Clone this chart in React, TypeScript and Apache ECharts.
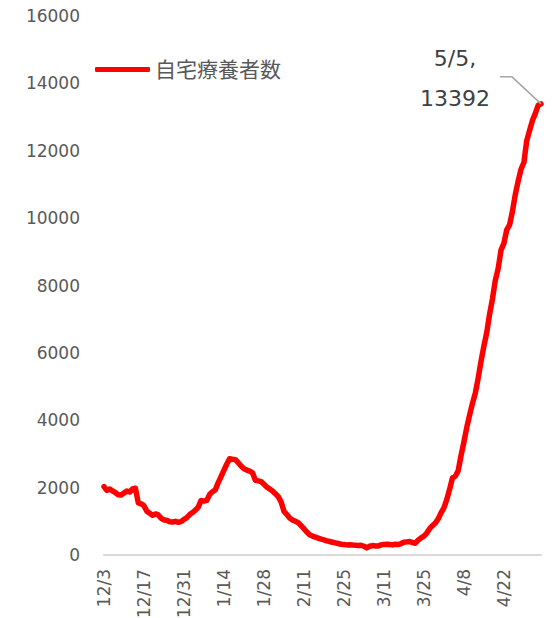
import React, { useEffect, useRef } from "react";
import * as echarts from "echarts";

const seriesName = "自宅療養者数";
const startDate = { year: 2020, month: 12, day: 3 };
const dayCount = 154;
const yTicks = { min: 0, max: 16000, interval: 2000 };
const values = [
  2030, 1920, 1960, 1900, 1850, 1790, 1780, 1840, 1900, 1870,
  1960, 1980, 1550, 1520, 1460, 1300, 1240, 1180, 1220, 1190,
  1090, 1040, 1030, 990, 980, 1000, 970, 990, 1060, 1110,
  1200, 1260, 1330, 1420, 1620, 1600, 1620, 1800, 1880, 1940,
  2150, 2330, 2520, 2700, 2860, 2840, 2830, 2740, 2640, 2560,
  2520, 2490, 2440, 2220, 2200, 2180, 2100, 2020, 1960, 1900,
  1820, 1730, 1580, 1300, 1200, 1100, 1040, 1000, 960, 870,
  780, 680, 600, 560, 530, 500, 470, 450, 420, 400,
  380, 360, 340, 320, 310, 300, 305, 295, 290, 285,
  290, 260, 210, 260, 280, 270, 270, 300, 310, 320,
  310, 300, 320, 310, 340, 380, 390, 400, 370, 350,
  440, 510, 560, 650, 780, 870, 950, 1070, 1250, 1400,
  1640, 1950, 2290, 2340, 2500, 2950, 3350, 3780, 4150, 4500,
  4800, 5250, 5750, 6200, 6600, 7150, 7600, 8150, 8500, 9050,
  9250, 9650, 9800, 10200, 10700, 11100, 11450, 11650, 12300, 12600,
  12900, 13100, 13350, 13392,
];

function buildDates(): string[] {
  const out: string[] = [];
  const d = new Date(startDate.year, startDate.month - 1, startDate.day);
  for (let i = 0; i < dayCount; i++) {
    out.push(`${d.getMonth() + 1}/${d.getDate()}`);
    d.setDate(d.getDate() + 1);
  }
  return out;
}
const categories = buildDates();

const FONT = "'DejaVu Sans', 'Noto Sans CJK JP', sans-serif";

export default function App() {
  const ref = useRef<HTMLDivElement>(null);
  useEffect(() => {
    if (!ref.current) return;
    const chart = echarts.init(ref.current, null, { renderer: "svg" });
    chart.setOption({
      animation: false,
      grid: { left: 104, right: 15, top: 16, bottom: 63, containLabel: false, outerBoundsMode: "none" },
      legend: {
        left: 90,
        top: 54,
        icon: "roundRect",
        itemWidth: 55,
        itemHeight: 5,
        textStyle: { fontSize: 21, color: "#595959", fontFamily: FONT },
        data: [seriesName],
      },
      xAxis: {
        type: "category",
        data: categories,
        boundaryGap: false,
        axisLine: { lineStyle: { color: "#d9d9d9", width: 2 } },
        axisTick: { show: false },
        axisLabel: {
          interval: 13,
          rotate: 90,
          margin: 14,
          fontSize: 17,
          color: "#595959",
          fontFamily: FONT,
        },
      },
      yAxis: {
        type: "value",
        min: yTicks.min,
        max: yTicks.max,
        interval: yTicks.interval,
        splitLine: { show: false },
        axisLine: { show: false },
        axisTick: { show: false },
        axisLabel: {
          fontSize: 17,
          color: "#595959",
          fontFamily: FONT,
          margin: 24,
          formatter: (v: number) => String(v),
        },
      },
      series: [
        {
          name: seriesName,
          type: "line",
          data: values,
          showSymbol: false,
          symbol: "none",
          itemStyle: { color: "#ff0000" },
          lineStyle: { color: "#ff0000", width: 5.5, cap: "round", join: "round" },
        },
      ],
    });
    const last = values.length - 1;
    const [px, py] = chart.convertToPixel({ xAxisIndex: 0, yAxisIndex: 0 }, [last, values[last]]) as number[];
    chart.setOption({
      graphic: [
        {
          type: "polyline",
          shape: { points: [[px - 41, py - 27], [px - 29, py - 27], [px, py]] },
          style: { stroke: "#a6a6a6", lineWidth: 1.5, fill: "none" },
          z: 10,
        },
        {
          type: "text",
          x: px - 86,
          y: py - 25,
          style: {
            text: `${categories[last]},\n${values[last]}`,
            font: `22px ${FONT}`,
            fill: "#404040",
            align: "center",
            verticalAlign: "middle",
            lineHeight: 40,
          },
          z: 10,
        },
      ],
    });
    return () => chart.dispose();
  }, []);
  return <div ref={ref} style={{ width: 556, height: 618, position: "absolute", left: 0, top: 0 }} />;
}
